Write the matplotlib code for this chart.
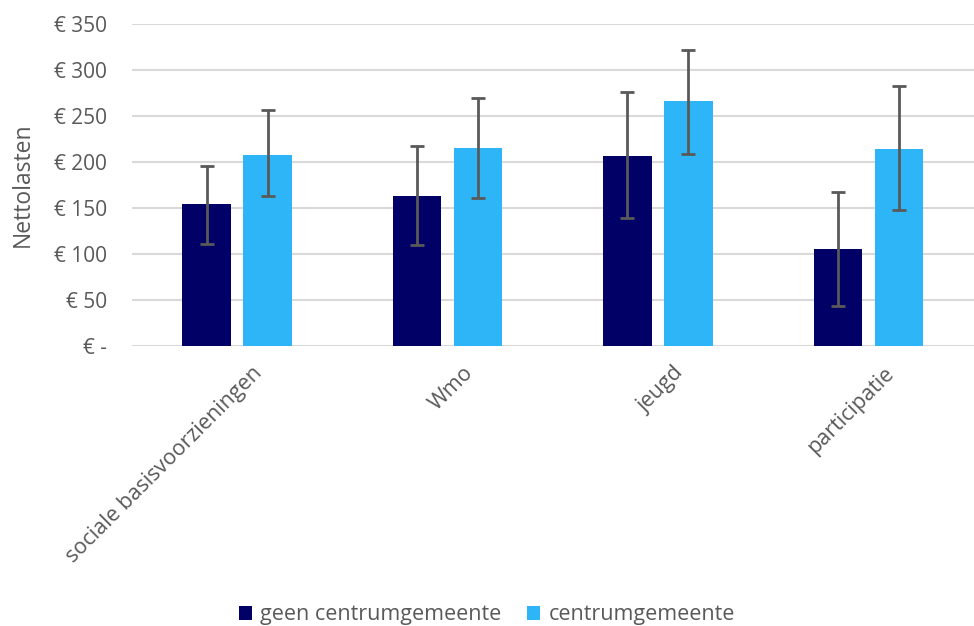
import matplotlib
matplotlib.use("Agg")
import matplotlib.pyplot as plt
import numpy as np

categories = ["sociale basisvoorzieningen", "Wmo", "jeugd", "participatie"]
series_names = ["geen centrumgemeente", "centrumgemeente"]

geen = [154, 163, 207, 105]
geen_low = [111, 110, 139, 44]
geen_high = [196, 217, 276, 167]

centrum = [208, 215, 266, 214]
centrum_low = [163, 161, 209, 148]
centrum_high = [256, 269, 322, 283]

yticks = [0, 50, 100, 150, 200, 250, 300, 350]
ytick_labels = ["€ -", "€ 50", "€ 100", "€ 150", "€ 200", "€ 250", "€ 300", "€ 350"]

DARK = "#000066"
LIGHT = "#2DB5F7"
GREY = "#595959"

plt.rcParams["font.family"] = ["Open Sans", "DejaVu Sans"]

fig = plt.figure(figsize=(9.74, 6.26), dpi=100)
ax = fig.add_axes([0.1355, 0.4473, 0.864, 0.5144])

x = np.arange(len(categories))
w = 0.23
off = 0.145

err_kw = dict(ecolor=GREY, elinewidth=2, capsize=5, capthick=2)

ax.bar(x - off, geen, w, color=DARK, label=series_names[0], zorder=2,
       yerr=[np.array(geen) - np.array(geen_low), np.array(geen_high) - np.array(geen)],
       error_kw=err_kw)
ax.bar(x + off, centrum, w, color=LIGHT, label=series_names[1], zorder=2,
       yerr=[np.array(centrum) - np.array(centrum_low), np.array(centrum_high) - np.array(centrum)],
       error_kw=err_kw)

ax.set_xlim(-0.5, len(categories) - 0.5)
ax.set_ylim(0, 350)
ax.set_yticks(yticks)
ax.set_yticklabels(ytick_labels, color=GREY, fontsize=15)
ax.yaxis.grid(True, color="#D9D9D9", lw=1.5, zorder=0)
ax.set_axisbelow(True)
ax.tick_params(axis="both", length=0, pad=18)
for s in ax.spines.values():
    s.set_visible(False)

ax.set_xticks(x + 0.07)
ax.set_xticklabels(categories, rotation=45, ha="right", va="top",
                   rotation_mode="anchor", color=GREY, fontsize=15.5)
ax.tick_params(axis="x", pad=12)

ax.set_ylabel("Nettolasten", color=GREY, fontsize=16.5, labelpad=14)

fig.legend(loc="lower center", bbox_to_anchor=(0.5, -0.03), ncol=2, frameon=False,
           fontsize=15.5, labelcolor=GREY, handlelength=0.6, handleheight=0.6,
           handletextpad=0.4, columnspacing=1.2)

fig.savefig("out.png", dpi=100)
